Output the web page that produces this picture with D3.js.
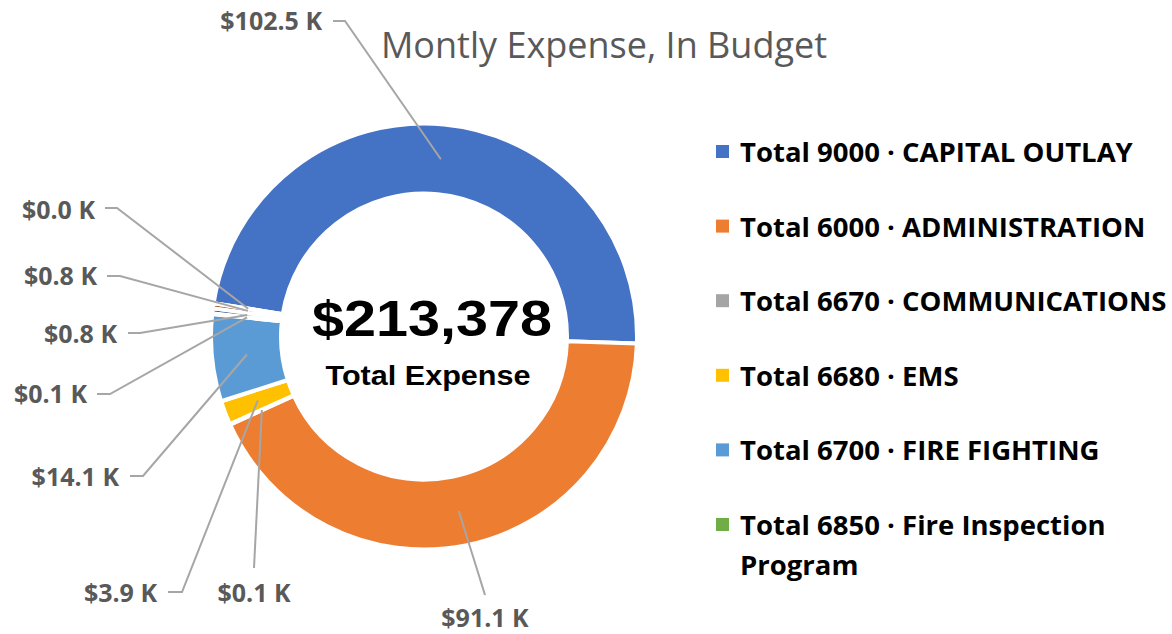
<!DOCTYPE html>
<html>
<head>
<meta charset="utf-8">
<script src="https://cdn.jsdelivr.net/npm/d3@7"></script>
<style>
  html, body { margin: 0; padding: 0; background: #fff; }
  svg { display: block; }
</style>
</head>
<body>
<svg id="chart" width="1172" height="634"></svg>
<script>
// slice data, in drawing order (clockwise)
const categories = [
  "Total 9000 · CAPITAL OUTLAY",
  "Total 6000 · ADMINISTRATION",
  "Total 6670 · COMMUNICATIONS",
  "Total 6680 · EMS",
  "Total 6700 · FIRE FIGHTING",
  "Total 6850 · Fire Inspection Program",
  "Other 7",
  "Other 8",
  "Other 9"
];
const values = [102.5, 91.1, 0.1, 3.9, 14.1, 0.1, 0.8, 0.8, 0.03]; // $ K
const colors = ["#4472C4", "#ED7D31", "#A5A5A5", "#FFC000", "#5B9BD5", "#70AD47", "#264478", "#9E480E", "#636363"];
const legendCount = 6; // only first six shown in legend
const legendLines = [
  ["Total 9000 · CAPITAL OUTLAY"],
  ["Total 6000 · ADMINISTRATION"],
  ["Total 6670 · COMMUNICATIONS"],
  ["Total 6680 · EMS"],
  ["Total 6700 · FIRE FIGHTING"],
  ["Total 6850 · Fire Inspection", "Program"]
];
const totalText = "$213,378";
const title = "Montly Expense, In Budget";

// label placement (layout only)
const labelLayout = [
  { x: 322, y: 21,  anchor: "end",    line: [[333, 21], [345, 21]] },
  { x: 485, y: 618, anchor: "middle", line: [[485, 595]] },
  { x: 254, y: 593, anchor: "middle", line: [[254, 568]] },
  { x: 157, y: 593, anchor: "end",    line: [[168, 592], [182, 592]] },
  { x: 119, y: 477, anchor: "end",    line: [[130, 476], [143, 476]] },
  { x: 87,  y: 394, anchor: "end",    line: [[97, 394], [110, 394]] },
  { x: 117, y: 334, anchor: "end",    line: [[128, 333], [140, 333]] },
  { x: 97,  y: 276, anchor: "end",    line: [[107, 276], [120, 276]] },
  { x: 95,  y: 210, anchor: "end",    line: [[105, 208], [117, 208]] }
];

const svg = d3.select("#chart");
const cx = 424, cy = 336.5;
const outerR = 213, innerR = 143;
const deg = Math.PI / 180;

const pie = d3.pie().sort(null).value(d => d)
  .startAngle(-81 * deg).endAngle(279 * deg);
const arcs = pie(values);

const arc = d3.arc().innerRadius(innerR).outerRadius(outerR);
const midArc = d3.arc().innerRadius(178).outerRadius(178);

const g = svg.append("g").attr("transform", `translate(${cx},${cy})`);

g.selectAll("path.slice")
  .data(arcs)
  .enter()
  .append("path")
  .attr("class", "slice")
  .attr("d", arc)
  .attr("fill", (d, i) => colors[i])
  .attr("stroke", "#fff")
  .attr("stroke-width", 4)
  .attr("stroke-linejoin", "round");

// leader lines
const fmt = d3.format(".1f");
const line = d3.line();
svg.selectAll("path.leader")
  .data(arcs)
  .enter()
  .append("path")
  .attr("class", "leader")
  .attr("d", (d, i) => {
    const c = midArc.centroid(d);
    return line(labelLayout[i].line.concat([[c[0] + cx, c[1] + cy]]));
  })
  .attr("fill", "none")
  .attr("stroke", "#A6A6A6")
  .attr("stroke-width", 2);

svg.selectAll("text.label")
  .data(arcs)
  .enter()
  .append("text")
  .attr("class", "label")
  .attr("x", (d, i) => labelLayout[i].x)
  .attr("y", (d, i) => labelLayout[i].y)
  .attr("dy", "0.35em")
  .attr("text-anchor", (d, i) => labelLayout[i].anchor)
  .style("font-family", "'Open Sans', sans-serif")
  .style("font-weight", "bold")
  .style("font-size", "25px")
  .attr("fill", "#595959")
  .text(d => "$" + fmt(d.data) + " K");

// title
svg.append("text")
  .attr("x", 604)
  .attr("y", 58)
  .attr("text-anchor", "middle")
  .style("font-family", "'Open Sans', sans-serif")
  .style("font-size", "36px")
  .attr("fill", "#595959")
  .text(title);

// centre text
svg.append("text")
  .attr("x", 432)
  .attr("y", 336)
  .attr("text-anchor", "middle")
  .attr("textLength", 240)
  .attr("lengthAdjust", "spacingAndGlyphs")
  .style("font-family", "'Liberation Sans', Arial, sans-serif")
  .style("font-weight", "bold")
  .style("font-size", "50px")
  .attr("fill", "#000")
  .text(totalText);

svg.append("text")
  .attr("x", 428)
  .attr("y", 385)
  .attr("text-anchor", "middle")
  .attr("textLength", 205)
  .attr("lengthAdjust", "spacingAndGlyphs")
  .style("font-family", "'Liberation Sans', Arial, sans-serif")
  .style("font-weight", "bold")
  .style("font-size", "28px")
  .attr("fill", "#000")
  .text("Total Expense");

// legend
const legend = svg.append("g").attr("class", "legend");
const rowY = d3.scaleLinear().domain([0, 1]).range([162, 236.6]);
const items = legend.selectAll("g.item")
  .data(d3.range(legendCount))
  .enter()
  .append("g")
  .attr("class", "item")
  .attr("transform", i => `translate(0,${rowY(i)})`);

items.append("rect")
  .attr("x", 716)
  .attr("y", -17)
  .attr("width", 13)
  .attr("height", 13)
  .attr("fill", i => colors[i]);

items.each(function (i) {
  const t = d3.select(this).append("text")
    .style("font-family", "'Open Sans', sans-serif")
    .style("font-weight", "bold")
    .style("font-size", "27.5px")
    .attr("fill", "#000");
  legendLines[i].forEach((s, k) => {
    t.append("tspan").attr("x", 740).attr("y", k * 40).text(s);
  });
});
</script>
</body>
</html>
